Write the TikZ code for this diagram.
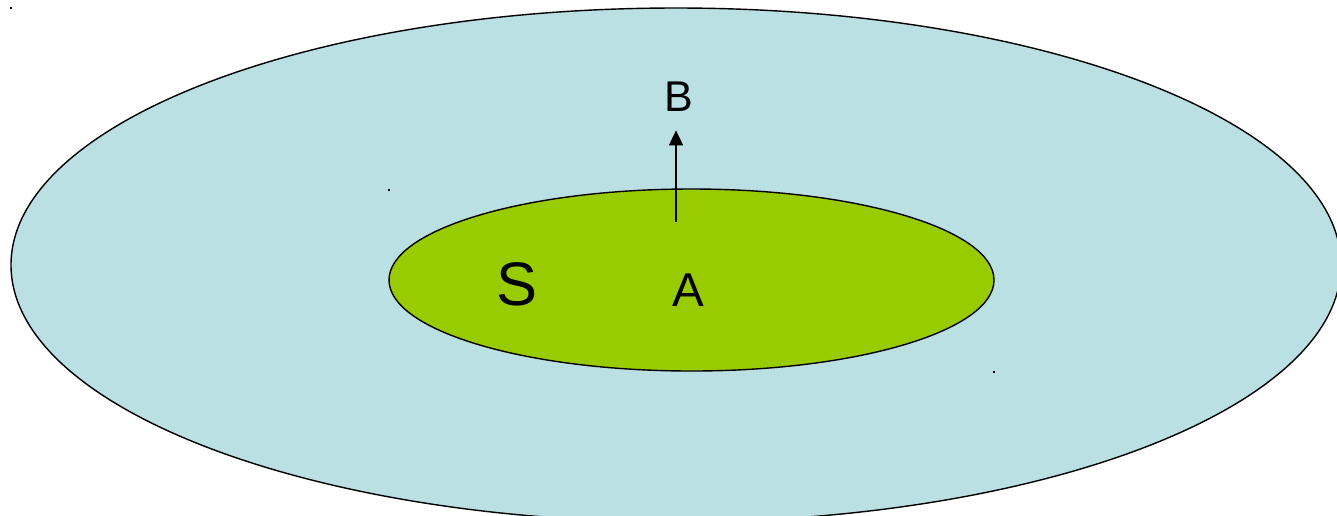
\documentclass[tikz,border=0pt]{standalone}
\usepackage{fontspec}
\setmainfont{Liberation Sans}
\usepackage{xcolor}
\usepackage{tikz}
\usetikzlibrary{arrows.meta,shapes.geometric}

\definecolor{skyfill}{HTML}{BBE0E3}
\definecolor{setgreen}{HTML}{99CC00}

\begin{document}
\begin{tikzpicture}[
  x=0.02cm, y=-0.02cm,
  region/.style={draw, ellipse, line width=0.8pt, inner sep=0pt},
  lbl/.style={anchor=base, inner sep=0pt},
  arr/.style={-{Triangle[length=0.3cm, width=0.28cm]}, line width=0.85pt},
  tick/.style={fill=black},
]
\useasboundingbox (0,0) rectangle (1337,515);
\clip (0,0) rectangle (1337,515);

\node[region, fill=skyfill, minimum width=1330*0.02cm, minimum height=514*0.02cm] (outer) at (676,265) {};
\node[region, fill=setgreen, minimum width=605*0.02cm, minimum height=182*0.02cm] (inner) at (691.5,280) {};

\node[lbl, font=\fontsize{35}{40}\selectfont] (S) at (516.5,305) {S};
\node[lbl, font=\fontsize{27}{32}\selectfont] (A) at (688,306) {A};
\node[lbl, font=\fontsize{24.5}{29}\selectfont] (B) at (679,111) {B};

\coordinate (tail) at (676,222);
\draw[arr, shorten >=0.38cm] (tail) -- (tail |- B.south);

% small marks
\fill[tick] (10,7) rectangle (12,9);
\fill[tick] (388,189) rectangle (390,190.5);
\fill[tick] (993,371) rectangle (995,372.5);
\end{tikzpicture}
\end{document}
